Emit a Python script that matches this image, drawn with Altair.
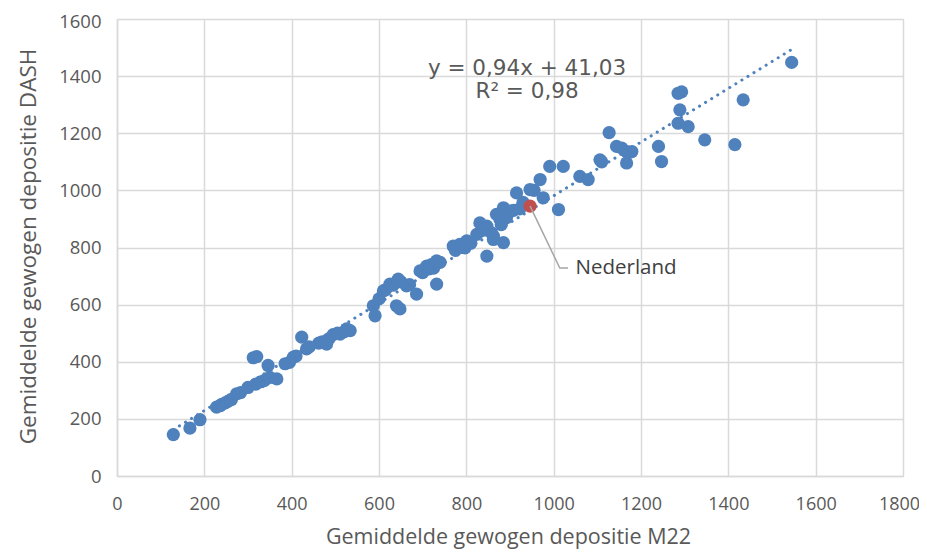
import altair as alt
import pandas as pd

# Blue points: M22 (x) vs DASH (y)
m22 = [129, 167, 190, 228, 236, 240, 248, 255, 262, 274, 283, 300, 312, 320, 318, 330, 338, 346,
       350, 366, 385, 395, 404, 410, 423, 434, 440, 462, 470, 480, 485, 495, 505, 511, 520, 526, 534,
       587, 591, 600, 610, 615, 625, 632, 644, 640, 648, 650, 663, 670, 686, 694, 700, 709, 715, 720,
       725, 732, 732, 740, 770, 775, 785, 790, 797, 801, 810, 824, 831, 838, 847, 847, 858, 862, 862,
       869, 877, 880, 885, 885, 892, 900, 908, 915, 922, 930, 946, 955, 969, 976, 991, 1011, 1022,
       1060, 1079, 1106, 1110, 1127, 1144, 1156, 1167, 1179, 1167, 1240, 1247, 1285, 1289, 1293, 1285,
       1308, 1346, 1415, 1434, 1545]
dash = [145, 168, 197, 241, 246, 251, 256, 262, 268, 288, 292, 310, 414, 418, 322, 330, 335, 387,
        345, 340, 393, 398, 416, 420, 486, 445, 452, 465, 470, 462, 480, 495, 500, 497, 505, 515, 509,
        596, 561, 620, 648, 652, 672, 668, 689, 596, 585, 680, 666, 670, 637, 718, 712, 735, 725, 740,
        728, 753, 672, 748, 805, 790, 811, 800, 799, 823, 815, 846, 886, 860, 875, 770, 851, 840, 828,
        916, 899, 880, 939, 817, 905, 927, 930, 991, 935, 958, 1003, 1000, 1038, 974, 1084, 933, 1084,
        1049, 1038, 1107, 1100, 1202, 1154, 1148, 1136, 1136, 1096, 1154, 1101, 1235, 1282, 1345, 1340,
        1223, 1177, 1160, 1317, 1448]

# Highlighted country
nl_name = ["Nederland"]
nl_x = [946]
nl_y = [945]

# Trendline y = 0.94x + 41.03 between data extremes
trend_x = [129, 1545]
slope, intercept = 0.94, 41.03
eq_lines = ["y = 0,94x + 41,03", "R² = 0,98"]

x_ticks = list(range(0, 1801, 200))
y_ticks = list(range(0, 1601, 200))

BLUE = "#4f81bd"
RED = "#c0504d"
GREY = "#595959"

W, H = 786, 457

df = pd.DataFrame({"x": m22, "y": dash})
nl = pd.DataFrame({"x": nl_x, "y": nl_y, "name": nl_name})
tr = pd.DataFrame({"x": trend_x, "y": [slope * v + intercept for v in trend_x]})
eq = pd.DataFrame({"x": [939, 939], "y": [1426, 1345], "t": eq_lines})
leader = pd.DataFrame({"x": [nl_x[0], 1014, 1033], "y": [nl_y[0], 728, 728], "o": [0, 1, 2]})
lab = pd.DataFrame({"x": [1050], "y": [728], "t": nl_name})

xs = alt.Scale(domain=[0, 1800], nice=False, zero=False)
ys = alt.Scale(domain=[0, 1600], nice=False, zero=False)

xax = alt.Axis(values=x_ticks, format="d", title="Gemiddelde gewogen depositie M22", grid=True,
               gridColor="#d9d9d9", gridWidth=1.5, domainColor="#d9d9d9", domainWidth=1.5,
               ticks=False, labelFont="Open Sans", labelFontSize=18,
               labelColor=GREY, labelPadding=19, labelFlush=False,
               labelOffset={"condition": {"test": "datum.value == 1800", "value": -4}, "value": 0},
               titleFont="Open Sans", titleFontSize=21.5, titleFontWeight="normal",
               titleColor=GREY, titleX=W / 2 - 2, titleY=61, titleBaseline="middle",
               titleAlign="center")
yax = alt.Axis(values=y_ticks, format="d", title="Gemiddelde gewogen depositie DASH", grid=True,
               gridColor="#d9d9d9", gridWidth=1.5, domainColor="#d9d9d9", domainWidth=1.5,
               ticks=False, labelFont="Open Sans", labelFontSize=18.5, labelColor=GREY,
               labelPadding=16, labelFlush=False,
               labelOffset={"condition": {"test": "datum.value == 1600", "value": 2}, "value": 0},
               titleFont="Open Sans", titleFontSize=22.5, titleFontWeight="normal",
               titleColor=GREY, titleX=-89, titleY=227, titleBaseline="middle",
               titleAlign="center", titleAngle=270)

pts = alt.Chart(df).mark_circle(size=175, color=BLUE, opacity=1).encode(
    x=alt.X("x:Q", scale=xs, axis=xax), y=alt.Y("y:Q", scale=ys, axis=yax))

trend = alt.Chart(tr).mark_line(color=BLUE, strokeWidth=3, strokeDash=[0.1, 7], strokeCap="round").encode(
    x=alt.X("x:Q", scale=xs), y=alt.Y("y:Q", scale=ys))

red = alt.Chart(nl).mark_circle(size=175, color=RED, opacity=1).encode(
    x=alt.X("x:Q", scale=xs), y=alt.Y("y:Q", scale=ys))

lead = alt.Chart(leader).mark_line(color="#a6a6a6", strokeWidth=1.5).encode(
    x=alt.X("x:Q", scale=xs), y=alt.Y("y:Q", scale=ys), order="o:O")

nl_text = alt.Chart(lab).mark_text(align="left", baseline="middle", font="Open Sans", fontSize=20.5,
                                   color="#404040").encode(
    x=alt.X("x:Q", scale=xs), y=alt.Y("y:Q", scale=ys), text="t:N")

eq_text = alt.Chart(eq).mark_text(align="center", baseline="middle", font="DejaVu Sans", fontSize=21.5,
                                  color=GREY).encode(
    x=alt.X("x:Q", scale=xs), y=alt.Y("y:Q", scale=ys), text="t:N")

chart = alt.layer(pts, trend, red, lead, nl_text, eq_text).properties(
    width=W, height=H,
    autosize=alt.AutoSizeParams(type="none"),
    padding={"left": 109, "top": 11, "right": 16, "bottom": 74},
).configure_view(stroke=None).configure(background="white")

chart.save("out.html", embed_options={"renderer": "svg", "actions": False})
